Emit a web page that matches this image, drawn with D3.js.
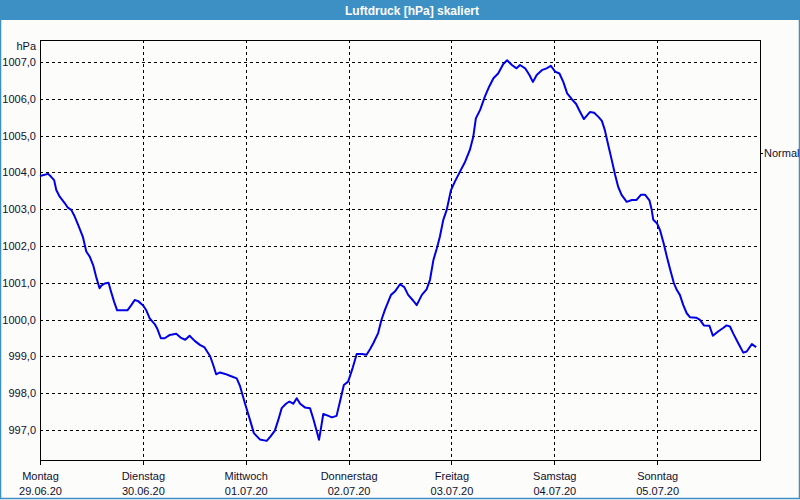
<!DOCTYPE html>
<html>
<head>
<meta charset="utf-8">
<title>Luftdruck</title>
<script src="https://d3js.org/d3.v7.min.js"></script>
<style>
  body { margin: 0; background: #fcfcfa; }
  text { font-family: "Liberation Sans", Arial, sans-serif; }
</style>
</head>
<body>
<script>
// hours since Monday 29.06.20 00:00
var hours = [0, 1.9, 2.6, 3.3, 3.8, 4.6, 5.8, 6.5, 7.3, 8.1, 8.9, 10.0, 10.8, 11.6, 12.4, 13.1, 13.9, 14.3, 15.1, 16.0,
  16.6, 17.3, 18.0, 20.4, 21.3, 22.1, 22.9, 24.0, 24.8, 25.6, 26.8, 27.4, 28.2, 29.1, 30.3, 31.8, 32.8, 33.9, 34.9, 36.1,
  37.3, 38.4, 39.7, 40.4, 41.1, 42.0, 43.2, 44.3, 45.9, 46.7, 47.8, 49.0, 49.9, 51.3, 52.9, 53.8, 54.8, 55.6, 56.4, 57.4,
  58.2, 59.1, 59.9, 60.7, 61.8, 63.0, 63.8, 64.6, 65.1, 65.5, 66.1, 67.3, 68.1, 69.2, 70.0, 70.9, 71.9, 73.0, 73.9, 75.1,
  76.2, 77.0, 77.8, 78.9, 79.7, 80.5, 81.9, 82.8, 84.0, 85.0, 85.9, 87.1, 87.9, 89.1, 90.2, 91.0, 91.8, 92.6, 93.3, 94.1,
  94.9, 95.9, 96.8, 98.0, 99.2, 100.3, 101.1, 101.7, 102.7, 103.8, 104.8, 105.8, 106.9, 108.1, 109.0, 110.1, 111.2, 112.0, 113.2, 114.2,
  115.0, 115.9, 117.1, 118.2, 119.2, 120.2, 121.2, 122.1, 123.0, 124.1, 125.1, 126.0, 126.9, 128.3, 129.3, 130.3, 131.1, 131.8, 132.6, 133.4,
  134.2, 134.9, 135.7, 136.9, 138.1, 139.2, 140.2, 141.2, 142.2, 142.7, 143.1, 144.0, 144.7, 145.5, 146.3, 147.1, 147.9, 148.6, 149.3, 150.1,
  150.9, 151.7, 153.1, 154.0, 154.9, 156.2, 157.0, 158.3, 159.4, 160.2, 161.0, 161.8, 162.9, 164.1, 164.9, 166.1, 167.1];
var pressure = [1003.90, 1003.96, 1003.88, 1003.79, 1003.52, 1003.34, 1003.16, 1003.04, 1002.98, 1002.80, 1002.57, 1002.25, 1001.85, 1001.71, 1001.48, 1001.16, 1000.85, 1000.92, 1000.98, 1001.00,
  1000.75, 1000.48, 1000.25, 1000.25, 1000.39, 1000.53, 1000.50, 1000.39, 1000.25, 1000.03, 999.87, 999.74, 999.49, 999.49, 999.58, 999.61, 999.51, 999.45, 999.56, 999.42,
  999.31, 999.24, 999.00, 998.77, 998.51, 998.56, 998.52, 998.47, 998.40, 998.18, 997.73, 997.27, 996.91, 996.74, 996.70, 996.82, 996.98, 997.27, 997.59, 997.71,
  997.77, 997.71, 997.86, 997.71, 997.61, 997.59, 997.29, 996.95, 996.73, 997.00, 997.43, 997.38, 997.34, 997.38, 997.77, 998.22, 998.31, 998.70, 999.06, 999.06,
  999.04, 999.19, 999.36, 999.63, 1000.00, 1000.27, 1000.67, 1000.76, 1000.96, 1000.88, 1000.67, 1000.51, 1000.39, 1000.67, 1000.82, 1001.08, 1001.62, 1001.94, 1002.25, 1002.71,
  1002.98, 1003.52, 1003.75, 1004.02, 1004.29, 1004.61, 1004.97, 1005.47, 1005.70, 1006.06, 1006.33, 1006.56, 1006.69, 1006.95, 1007.05, 1006.92, 1006.83, 1006.92, 1006.83, 1006.65,
  1006.46, 1006.65, 1006.78, 1006.83, 1006.90, 1006.74, 1006.69, 1006.46, 1006.15, 1005.99, 1005.86, 1005.65, 1005.45, 1005.64, 1005.62, 1005.51, 1005.40, 1005.15, 1004.74, 1004.34,
  1003.93, 1003.61, 1003.39, 1003.20, 1003.25, 1003.25, 1003.39, 1003.39, 1003.24, 1003.00, 1002.71, 1002.61, 1002.42, 1002.08, 1001.69, 1001.33, 1000.99, 1000.80, 1000.67, 1000.39,
  1000.17, 1000.06, 1000.05, 999.99, 999.84, 999.83, 999.56, 999.68, 999.77, 999.84, 999.81, 999.61, 999.36, 999.10, 999.13, 999.33, 999.25];

var dayNames = ["Montag", "Dienstag", "Mittwoch", "Donnerstag", "Freitag", "Samstag", "Sonntag"];
var dayDates = ["29.06.20", "30.06.20", "01.07.20", "02.07.20", "03.07.20", "04.07.20", "05.07.20"];
var yTicks = [997, 998, 999, 1000, 1001, 1002, 1003, 1004, 1005, 1006, 1007];
var normalValue = 1004.53;
var titleText = "Luftdruck [hPa] skaliert";

var W = 800, H = 500;
var plotL = 40, plotR = 760, plotT = 40, plotB = 460;

var svg = d3.select("body").append("svg")
  .attr("width", W).attr("height", H)
  .style("display", "block");

svg.append("rect").attr("width", W).attr("height", H).attr("fill", "#fcfcfa");

var x = d3.scaleLinear().domain([0, 168]).range([plotL, plotR]);
var y = d3.scaleLinear().domain([996.18, 1007.6]).range([plotB, plotT]);

// title bar
svg.append("rect").attr("x", 0).attr("y", 0).attr("width", W).attr("height", 20).attr("fill", "#3d90c4");
svg.append("text")
  .attr("x", 412).attr("y", 14.5)
  .attr("text-anchor", "middle")
  .attr("fill", "#fff")
  .attr("font-weight", "bold")
  .attr("font-size", 12)
  .text(titleText);

// window border
svg.append("rect")
  .attr("x", 0.5).attr("y", 0.5).attr("width", W - 1).attr("height", H - 2)
  .attr("fill", "none").attr("stroke", "#3d90c4").attr("stroke-width", 1.5);

// grid
var grid = svg.append("g").attr("stroke", "#000").attr("stroke-dasharray", "3,3").attr("shape-rendering", "crispEdges");
grid.selectAll("line.h").data(yTicks).enter().append("line")
  .attr("x1", plotL).attr("x2", plotR)
  .attr("y1", function(d) { return Math.round(y(d)) + 0.5; })
  .attr("y2", function(d) { return Math.round(y(d)) + 0.5; });
grid.selectAll("line.v").data(d3.range(1, 7)).enter().append("line")
  .attr("x1", function(d) { return Math.round(x(d * 24)) + 0.5; })
  .attr("x2", function(d) { return Math.round(x(d * 24)) + 0.5; })
  .attr("y1", plotT).attr("y2", plotB + 4);

// frame
svg.append("rect")
  .attr("x", plotL + 0.5).attr("y", plotT + 0.5)
  .attr("width", plotR - plotL).attr("height", plotB - plotT)
  .attr("fill", "none").attr("stroke", "#000").attr("shape-rendering", "crispEdges");

// y axis
var yAxis = d3.axisLeft(y).tickValues(yTicks).tickSize(0).tickPadding(4)
  .tickFormat(function(d) { return d3.format(".1f")(d).replace(".", ","); });
var ga = svg.append("g").attr("transform", "translate(" + plotL + ",0)").call(yAxis);
ga.select(".domain").remove();
ga.selectAll("text").attr("font-size", 11).attr("fill", "#101030").attr("font-family", "Liberation Sans, Arial, sans-serif");

svg.append("text").attr("x", 36).attr("y", 50).attr("text-anchor", "end")
  .attr("font-size", 11).attr("fill", "#101030").text("hPa");

// x axis
var xAxis = d3.axisBottom(x).tickValues(d3.range(0, 7).map(function(d) { return d * 24; }))
  .tickSize(4).tickFormat("");
var gx = svg.append("g").attr("transform", "translate(0," + (plotB + 0.5) + ")").call(xAxis);
gx.select(".domain").remove();
gx.selectAll(".tick line").attr("shape-rendering", "crispEdges");
gx.selectAll(".tick").each(function(d, i) {
  var t = d3.select(this).append("text").attr("fill", "#101030").attr("font-size", 11).attr("text-anchor", "middle");
  t.append("tspan").attr("x", 0).attr("y", 19).text(dayNames[i]);
  t.append("tspan").attr("x", 0).attr("y", 34).text(dayDates[i]);
});

// normal marker
svg.append("line")
  .attr("x1", plotR).attr("x2", plotR + 3)
  .attr("y1", Math.round(y(normalValue)) + 0.5).attr("y2", Math.round(y(normalValue)) + 0.5)
  .attr("stroke", "#000").attr("shape-rendering", "crispEdges");
svg.append("text").attr("x", plotR + 4).attr("y", y(normalValue) + 4)
  .attr("font-size", 11).attr("fill", "#101030").text("Normal");

// pressure line
var line = d3.line()
  .x(function(d, i) { return x(hours[i]); })
  .y(function(d) { return y(d); });
svg.append("path")
  .datum(pressure)
  .attr("d", line)
  .attr("fill", "none")
  .attr("stroke", "#0000e6")
  .attr("stroke-width", 2)
  .attr("stroke-linejoin", "round");
</script>
</body>
</html>
